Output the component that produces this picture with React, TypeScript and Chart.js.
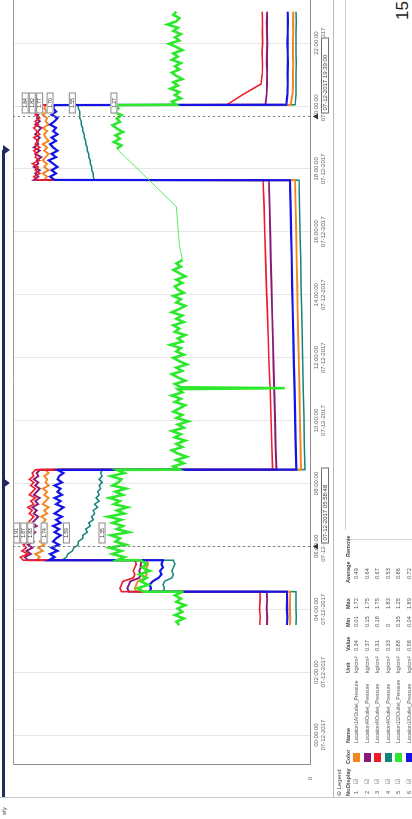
import React, { useEffect, useRef } from 'react';
import { Chart, registerables } from 'chart.js';

Chart.register(...registerables);

// ---- time axis (hours after 00:00:00 07-12-2017) ----
const axisStartHour = -0.95;
const axisEndHour = 23.37;
const tickStepHours = 2;
const tickDate = '07-12-2017';

// sample segments (start hour, end hour) shared by the pressure series
const mainSegments = [
  [3.5, 4.55],
  [4.56, 5.55],
  [5.56, 8.43],
  [8.44, 17.64],
  [17.65, 20.03],
  [20.04, 23.0],
];

const orangeValues = [
  [0.135, 0.133, 0.136, 0.134, 0.135],
  [1.17, 1.18, 1.17, 1.16, 1.11, 1.1, 1.11, 1.1, 1.09, 1.1],
  [1.84, 1.82, 1.85, 1.8, 1.83, 1.79, 1.82, 1.8, 1.78, 1.81, 1.79, 1.77, 1.8, 1.78, 1.81, 1.77, 1.79, 1.76, 1.8, 1.78, 1.76, 1.79, 1.77, 1.8, 1.76, 1.78, 1.77, 1.79, 1.76, 1.78],
  [0.061, 0.064, 0.068, 0.071, 0.075, 0.079, 0.083, 0.086, 0.09, 0.093, 0.097, 0.101],
  [1.79, 1.77, 1.8, 1.76, 1.79, 1.77, 1.8, 1.78, 1.76, 1.79, 1.77, 1.8, 1.76, 1.78, 1.79, 1.77, 1.8, 1.76, 1.78, 1.77, 1.8, 1.77, 1.79, 1.78],
  [0.13, 0.118, 0.114, 0.115, 0.113, 0.114, 0.115, 0.113, 0.114, 0.113],
];

const purpleValues = [
  [0.29, 0.288, 0.292, 0.289, 0.291],
  [1.22, 1.23, 1.22, 1.21, 1.15, 1.14, 1.15, 1.14, 1.14, 1.13],
  [1.9, 1.92, 1.88, 1.91, 1.87, 1.9, 1.86, 1.89, 1.87, 1.85, 1.88, 1.84, 1.87, 1.85, 1.83, 1.86, 1.84, 1.87, 1.83, 1.85, 1.82, 1.86, 1.84, 1.82, 1.85, 1.83, 1.86, 1.83, 1.84, 1.82],
  [0.226, 0.232, 0.236, 0.241, 0.246, 0.25, 0.255, 0.259, 0.264, 0.268, 0.272, 0.277],
  [1.86, 1.83, 1.85, 1.82, 1.86, 1.83, 1.84, 1.81, 1.85, 1.82, 1.86, 1.83, 1.84, 1.82, 1.85, 1.83, 1.81, 1.85, 1.82, 1.84, 1.83, 1.86, 1.82, 1.84],
  [0.3, 0.292, 0.29, 0.289, 0.291, 0.29, 0.288, 0.29, 0.291, 0.289],
];

const redValues = [
  [0.338, 0.335, 0.34, 0.336, 0.337],
  [1.27, 1.28, 1.27, 1.26, 1.19, 1.18, 1.19, 1.18, 1.17, 1.18],
  [1.93, 1.95, 1.9, 1.94, 1.91, 1.93, 1.89, 1.92, 1.9, 1.88, 1.91, 1.87, 1.9, 1.88, 1.86, 1.89, 1.87, 1.9, 1.86, 1.88, 1.85, 1.89, 1.87, 1.85, 1.88, 1.86, 1.89, 1.86, 1.87, 1.85],
  [0.252, 0.258, 0.263, 0.268, 0.276, 0.281, 0.287, 0.294, 0.299, 0.305, 0.309, 0.316],
  [1.84, 1.86, 1.82, 1.85, 1.83, 1.87, 1.82, 1.85, 1.84, 1.86, 1.82, 1.85, 1.83, 1.86, 1.82, 1.84, 1.86, 1.83, 1.85, 1.82, 1.85, 1.83, 1.86, 1.84],
  [0.56, 0.45, 0.33, 0.322, 0.32, 0.323, 0.319, 0.321, 0.32, 0.322],
];

const tealValues = [
  [0.094, 0.093, 0.095, 0.094, 0.094],
  [0.99, 0.98, 0.99, 0.98, 0.93, 0.92, 0.93, 0.92, 0.91, 0.92],
  [1.67, 1.64, 1.63, 1.6, 1.59, 1.56, 1.56, 1.53, 1.53, 1.5, 1.51, 1.48, 1.49, 1.46, 1.47, 1.45, 1.46, 1.43, 1.45, 1.42, 1.44, 1.42, 1.43, 1.41, 1.42, 1.4, 1.42, 1.4, 1.41, 1.4],
  [0.034, 0.038, 0.041, 0.045, 0.049, 0.052, 0.056, 0.06, 0.063, 0.067, 0.07, 0.074],
  [1.45, 1.46, 1.46, 1.47, 1.47, 1.48, 1.48, 1.49, 1.49, 1.5, 1.5, 1.51, 1.51, 1.52, 1.52, 1.53, 1.53, 1.54, 1.54, 1.55, 1.55, 1.55, 1.56, 1.56],
  [0.1, 0.095, 0.094, 0.094, 0.093, 0.094, 0.095, 0.094, 0.093, 0.094],
];

const blueValues = [
  [0.155, 0.153, 0.156, 0.154, 0.155],
  [1.08, 1.07, 1.08, 1.06, 1.02, 1.0, 1.01, 0.99, 1.0, 0.99],
  [1.76, 1.72, 1.75, 1.7, 1.74, 1.69, 1.73, 1.71, 1.68, 1.72, 1.69, 1.73, 1.68, 1.71, 1.67, 1.72, 1.69, 1.66, 1.71, 1.68, 1.72, 1.67, 1.7, 1.68, 1.72, 1.67, 1.7, 1.69, 1.66, 1.7],
  [0.092, 0.097, 0.1, 0.104, 0.108, 0.112, 0.116, 0.12, 0.123, 0.127, 0.131, 0.135],
  [1.72, 1.75, 1.71, 1.74, 1.7, 1.73, 1.76, 1.71, 1.74, 1.7, 1.73, 1.75, 1.71, 1.74, 1.7, 1.73, 1.71, 1.75, 1.72, 1.7, 1.74, 1.71, 1.73, 1.72],
  [0.16, 0.152, 0.15, 0.151, 0.149, 0.15, 0.152, 0.15, 0.149, 0.15],
];

// green (Location1/2) has its own sampling with a data gap
const greenSegments = [
  [3.5, 4.55],
  [4.56, 5.55],
  [5.56, 8.43],
  [8.44, 11.0],
  [11.03, 11.03],
  [11.06, 15.1],
  [15.6, 15.6],
  [16.8, 16.8],
  [18.64, 20.03],
  [20.04, 23.0],
];

const greenValues = [
  [0.88, 0.9, 0.85, 0.91, 0.86, 0.89, 0.84, 0.9, 0.87, 0.91, 0.86],
  [1.12, 1.16, 1.09, 1.14, 1.1, 1.15, 1.08, 1.13, 1.1, 1.14],
  [1.3, 1.25, 1.33, 1.27, 1.35, 1.24, 1.31, 1.28, 1.34, 1.22, 1.3, 1.26, 1.33, 1.27, 1.36, 1.25, 1.3, 1.23, 1.32, 1.28, 1.35, 1.26, 1.31, 1.24, 1.33, 1.29, 1.27, 1.34, 1.25, 1.3],
  [0.88, 0.92, 0.85, 0.9, 0.83, 0.89, 0.93, 0.86, 0.9, 0.84, 0.91, 0.87, 0.93, 0.85, 0.89, 0.82, 0.9, 0.86, 0.92, 0.88, 0.84, 0.91, 0.87, 0.93, 0.86, 0.89],
  [0.17],
  [0.87, 0.91, 0.84, 0.89, 0.93, 0.86, 0.9, 0.83, 0.88, 0.92, 0.85, 0.9, 0.87, 0.94, 0.86, 0.89, 0.84, 0.91, 0.88, 0.92, 0.85, 0.9, 0.86, 0.93, 0.88, 0.84, 0.9, 0.87, 0.92, 0.85, 0.89, 0.91, 0.86, 0.9, 0.84, 0.88, 0.92, 0.87, 0.9, 0.86],
  [0.88],
  [0.9],
  [1.3, 1.27, 1.32, 1.28, 1.31, 1.26, 1.3, 1.33, 1.28, 1.3, 1.27, 1.32, 1.29, 1.31],
  [0.9, 0.93, 0.87, 0.91, 0.88, 0.94, 0.89, 0.92, 0.86, 0.9, 0.93, 0.88, 0.91, 0.87, 0.93, 0.89, 0.92, 0.86, 0.9, 0.95, 0.88, 0.91, 0.87, 0.92, 0.89, 0.96, 0.9, 0.88, 0.92, 0.9],
];

// trend cursors
const cursorHours = [5.98, 19.65];
const cursorLabels = ['07-12-2017 05:58:48', '07-12-2017 19:39:00'];

// legend table
const seriesColors = ['#f5861f', '#8a1a78', '#f01c2c', '#14857a', '#2ee82e', '#1414e6'];
const legendNos = ['1', '2', '3', '4', '5', '6'];
const legendNames = [
  'Location1A/Outlet_Pressure',
  'Location4/Outlet_Pressure',
  'Location4/Outlet_Pressure',
  'Location4/Outlet_Pressure',
  'Location1/2/Outlet_Pressure',
  'Location1/Outlet_Pressure',
];
const legendUnits = ['kg/cm²', 'kg/cm²', 'kg/cm²', 'kg/cm²', 'kg/cm²', 'kg/cm²'];
const legendValues = ['0.34', '0.37', '0.31', '0.33', '0.88', '0.58'];
const legendMins = ['0.01', '0.15', '0.18', '0', '0.35', '0.04'];
const legendMaxs = ['1.72', '1.75', '1.75', '1.83', '1.25', '1.89'];
const legendAvgs = ['0.49', '0.64', '0.67', '0.53', '0.86', '0.72'];
const legendHeaders = ['No.', 'Display', 'Color', 'Name', 'Unit', 'Value', 'Min', 'Max', 'Average', 'Remove'];

function toPoints(segments: number[][], values: number[][]) {
  const pts: { x: number; y: number }[] = [];
  segments.forEach((seg, i) => {
    const vals = values[i];
    const n = vals.length;
    vals.forEach((v, k) => {
      const x = n === 1 ? seg[0] : seg[0] + ((seg[1] - seg[0]) * k) / (n - 1);
      pts.push({ x, y: v });
    });
  });
  return pts;
}

function pad2(n: number) {
  return (n < 10 ? '0' : '') + n;
}

const overlayPlugin = {
  id: 'trendOverlay',
  afterDatasetsDraw(chart: any) {
    const { ctx, chartArea: a, scales } = chart;
    const xs = scales.x;
    ctx.save();
    // top frame
    ctx.strokeStyle = '#9a9a9a';
    ctx.lineWidth = 1;
    ctx.beginPath();
    ctx.moveTo(a.left, a.top + 0.5);
    ctx.lineTo(a.right, a.top + 0.5);
    ctx.stroke();

    cursorHours.forEach((h) => {
      const cx = Math.round(xs.getPixelForValue(h)) + 0.5;
      ctx.setLineDash([2, 3]);
      ctx.strokeStyle = '#7d7d7d';
      ctx.lineWidth = 1;
      ctx.beginPath();
      ctx.moveTo(cx, a.top);
      ctx.lineTo(cx, a.bottom + 5);
      ctx.stroke();
      ctx.setLineDash([]);

      const items: { y: number; v: number }[] = [];
      chart.data.datasets.forEach((ds: any, di: number) => {
        const meta = chart.getDatasetMeta(di);
        let best = -1;
        let bd = Infinity;
        meta.data.forEach((el: any, k: number) => {
          const d = Math.abs(el.x - cx);
          if (d < bd) {
            bd = d;
            best = k;
          }
        });
        if (best >= 0 && bd < 6) items.push({ y: meta.data[best].y, v: ds.data[best].y });
      });
      items.sort((p, q) => q.y - p.y);
      let prevTop = Infinity;
      ctx.font = '5px "Liberation Sans", Arial, sans-serif';
      ctx.textAlign = 'center';
      ctx.textBaseline = 'middle';
      items.forEach((it) => {
        const top = Math.min(it.y - 11, prevTop - 7);
        prevTop = top;
        ctx.fillStyle = '#ffffff';
        ctx.fillRect(cx + 3, top, 21, 7);
        ctx.strokeStyle = '#8a8a8a';
        ctx.strokeRect(cx + 3.5, top + 0.5, 20, 6);
        ctx.fillStyle = '#333';
        ctx.fillText(it.v.toFixed(2), cx + 13.5, top + 3.8);
      });
    });
    ctx.restore();
  },
  afterDraw(chart: any) {
    const { ctx, chartArea: a, scales } = chart;
    const xs = scales.x;
    ctx.save();
    cursorHours.forEach((h, i) => {
      const cx = Math.round(xs.getPixelForValue(h)) + 0.5;
      ctx.fillStyle = '#ffffff';
      ctx.fillRect(cx + 3, a.bottom + 11, 76, 8);
      ctx.strokeStyle = '#6f6f6f';
      ctx.lineWidth = 1;
      ctx.strokeRect(cx + 3.5, a.bottom + 11.5, 75, 7);
      ctx.fillStyle = '#444';
      ctx.font = '6px "Liberation Sans", Arial, sans-serif';
      ctx.textAlign = 'left';
      ctx.textBaseline = 'middle';
      ctx.fillText(cursorLabels[i], cx + 6, a.bottom + 15.3);
      ctx.fillStyle = '#333';
      ctx.beginPath();
      ctx.moveTo(cx, a.bottom + 3);
      ctx.lineTo(cx - 3, a.bottom + 8);
      ctx.lineTo(cx + 3, a.bottom + 8);
      ctx.closePath();
      ctx.fill();
    });
    ctx.restore();
  },
};

const font = '"Liberation Sans", Arial, sans-serif';

export default function App() {
  const canvasRef = useRef<HTMLCanvasElement>(null);

  useEffect(() => {
    if (!canvasRef.current) return;
    const mk = (label: string, values: number[][], color: string, width: number, order: number) => ({
      label,
      data: toPoints(mainSegments, values),
      borderColor: color,
      backgroundColor: color,
      borderWidth: width,
      pointRadius: 0,
      tension: 0,
      fill: false,
      order,
    });
    const chart = new Chart(canvasRef.current, {
      type: 'line',
      data: {
        datasets: [
          mk('Location1A/Outlet_Pressure', orangeValues, seriesColors[0], 1.9, 4),
          mk('Location4/Outlet_Pressure', purpleValues, seriesColors[1], 1.9, 3),
          mk('Location4/Outlet_Pressure', redValues, seriesColors[2], 1.6, 2),
          mk('Location4/Outlet_Pressure', tealValues, seriesColors[3], 1.5, 5),
          {
            label: 'Location1/2/Outlet_Pressure',
            data: toPoints(greenSegments, greenValues),
            borderColor: seriesColors[4],
            backgroundColor: seriesColors[4],
            borderWidth: 2.6,
            pointRadius: 0,
            tension: 0,
            fill: false,
            order: 0,
            segment: {
              borderWidth: (c: any) => (c.p1.parsed.x - c.p0.parsed.x > 0.3 ? 0.8 : undefined),
            },
          } as any,
          mk('Location1/Outlet_Pressure', blueValues, seriesColors[5], 2.2, 1),
        ],
      },
      options: {
        animation: false,
        responsive: false,
        maintainAspectRatio: false,
        devicePixelRatio: 1,
        layout: { padding: { top: 13, right: 0, left: 0, bottom: 0 } },
        plugins: { legend: { display: false }, tooltip: { enabled: false } },
        scales: {
          x: {
            type: 'linear',
            min: axisStartHour,
            max: axisEndHour,
            afterFit: (s: any) => {
              s.height = 30;
            },
            grid: { color: '#e6e6e6', drawTicks: false },
            border: { color: '#8c8c8c' },
            ticks: {
              stepSize: tickStepHours,
              includeBounds: false,
              autoSkip: false,
              maxRotation: 0,
              padding: 3,
              color: '#6a6a6a',
              font: { size: 6, family: font, lineHeight: 1.15 },
              callback: (v: any) => [pad2(Number(v)) + ':00:00', tickDate],
            },
          },
          y: {
            type: 'linear',
            min: 0,
            max: 2,
            afterFit: (s: any) => {
              s.width = 54;
            },
            grid: { display: false },
            border: { color: '#8c8c8c' },
            ticks: {
              stepSize: 0.5,
              padding: 4,
              color: '#6a6a6a',
              font: { size: 6, family: font },
              callback: (v: any) => (Number(v) === 0 ? '0' : ''),
            },
          },
        },
      } as any,
      plugins: [overlayPlugin],
    });
    return () => chart.destroy();
  }, []);

  const rowTop = (i: number) => 353 + i * 10.5;
  const colX = [23, 31, 55, 76, 146, 168, 192, 210, 236, 262];
  const txt: React.CSSProperties = {
    position: 'absolute',
    fontFamily: font,
    fontSize: 5.5,
    color: '#555',
    whiteSpace: 'nowrap',
    lineHeight: '7px',
  };

  return (
    <div style={{ position: 'fixed', left: 0, top: 0, width: 412, height: 819, overflow: 'hidden', background: '#fff' }}>
      <div
        style={{
          position: 'absolute',
          left: 0,
          top: 0,
          width: 819,
          height: 412,
          background: '#fff',
          transformOrigin: '0 0',
          transform: 'translate(0px, 819px) rotate(-90deg)',
        }}
      >
        <canvas ref={canvasRef} width={819} height={340} style={{ position: 'absolute', left: 0, top: 0, width: 819, height: 340 }} />
        {/* window frame lines */}
        <div style={{ position: 'absolute', left: 21, top: 0, width: 1, height: 412, background: '#c4c9d4' }} />
        <div style={{ position: 'absolute', left: 21, top: 333, width: 798, height: 1, background: '#b9b9b9' }} />
        <div style={{ position: 'absolute', left: 289, top: 345, width: 530, height: 1, background: '#cfcfcf' }} />
        <div style={{ position: 'absolute', left: 279, top: 345, width: 1, height: 67, background: '#d6d6d6' }} />
        {/* navy annotation bracket */}
        <div style={{ position: 'absolute', left: 22, top: 2, width: 647, height: 3, background: '#202a5e' }} />
        <div style={{ position: 'absolute', left: 664, top: 3, width: 0, height: 0, borderLeft: '5px solid transparent', borderRight: '5px solid transparent', borderTop: '7px solid #202a5e' }} />
        <div style={{ position: 'absolute', left: 331, top: 3, width: 0, height: 0, borderLeft: '5px solid transparent', borderRight: '5px solid transparent', borderTop: '7px solid #202a5e' }} />
        {/* status text */}
        <div style={{ ...txt, left: 4, top: 1, fontSize: 6, color: '#444' }}>sfy</div>
        {/* legend */}
        <div style={{ ...txt, left: 23, top: 336, fontSize: 6, color: '#444' }}>⊖ Legend</div>
        {legendHeaders.map((h, i) => (
          <div key={'h' + i} style={{ ...txt, left: colX[i], top: 345, fontWeight: 'bold', color: '#444' }}>
            {h}
          </div>
        ))}
        {legendNos.map((n, i) => (
          <React.Fragment key={'r' + i}>
            <div style={{ ...txt, left: colX[0] + 2, top: rowTop(i) }}>{n}</div>
            <div style={{ ...txt, left: colX[1] + 4, top: rowTop(i) }}>☑</div>
            <div style={{ position: 'absolute', left: colX[2] + 2, top: rowTop(i), width: 9, height: 7, background: seriesColors[i] }} />
            <div style={{ ...txt, left: colX[3], top: rowTop(i), fontSize: 5 }}>{legendNames[i]}</div>
            <div style={{ ...txt, left: colX[4], top: rowTop(i) }}>{legendUnits[i]}</div>
            <div style={{ ...txt, left: colX[5], top: rowTop(i) }}>{legendValues[i]}</div>
            <div style={{ ...txt, left: colX[6], top: rowTop(i) }}>{legendMins[i]}</div>
            <div style={{ ...txt, left: colX[7], top: rowTop(i) }}>{legendMaxs[i]}</div>
            <div style={{ ...txt, left: colX[8] + 4, top: rowTop(i) }}>{legendAvgs[i]}</div>
          </React.Fragment>
        ))}
        {/* page number */}
        <div style={{ position: 'absolute', left: 799, top: 394, fontFamily: font, fontSize: 17, color: '#222', lineHeight: '18px' }}>15</div>
      </div>
    </div>
  );
}
